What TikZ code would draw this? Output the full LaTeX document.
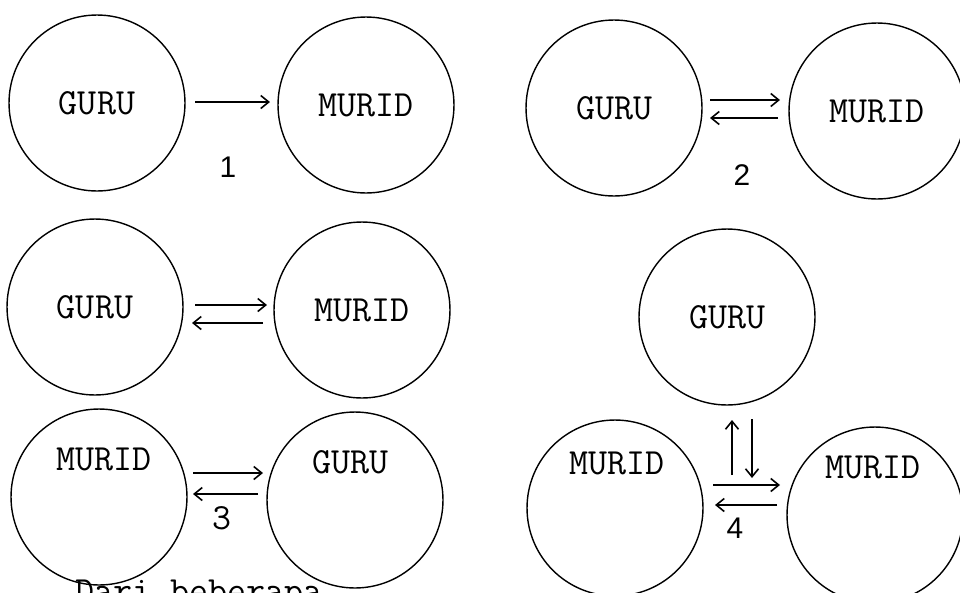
\documentclass[tikz,border=0pt]{standalone}
\usepackage{fontspec}
\setsansfont{Liberation Sans}
\usetikzlibrary{arrows.meta,calc}

\begin{document}
\begin{tikzpicture}[
      x=0.02cm, y=-0.02cm,
      person/.style={circle,draw,line width=0.8pt,minimum size=3.52cm,inner sep=0pt,
        font=\ttfamily\fontsize{21}{23}\selectfont},
      word/.style={inner sep=0pt,font=\ttfamily\fontsize{21}{23}\selectfont},
      num/.style={inner sep=0pt,font=\sffamily\fontsize{17}{19}\selectfont},
      link/.style={draw,line width=0.9pt,-{Straight Barb[length=1.6mm,width=2.6mm]}}
      ]
  \useasboundingbox (0,0) rectangle (960,592);
  \clip (0,0) rectangle (960,592);

  \node[person] (g1) at (97,103) {GURU};
  \node[person] (m1) at (366,105) {MURID};
  \draw[link] ($(g1)+(98,-1)$) -- ($(m1)+(-96,-3)$);
  \node[num] (n1) at (228,167) {1};

  \node[person] (g2) at (614,108) {GURU};
  \node[person] (m2) at (877,111) {MURID};
  \draw[link] ($(g2)+(96,-8)$) -- ($(m2)+(-97,-11)$);
  \draw[link] ($(m2)+(-99,7)$) -- ($(g2)+(96,10)$);
  \node[num] (n2) at (742,175) {2};

  \node[person] (g3) at (95,307) {GURU};
  \node[person] (m3) at (362,310) {MURID};
  \draw[link] ($(g3)+(100,-2)$) -- ($(m3)+(-95,-5)$);
  \draw[link] ($(m3)+(-99,13)$) -- ($(g3)+(97,16)$);

  \node[person] (m4) at (99,497) {};
  \node[word] (m4t) at ($(m4)+(5,-38)$) {MURID};
  \node[person] (g4) at (355,500) {};
  \node[word] (g4t) at ($(g4)+(-5,-38)$) {GURU};
  \draw[link] ($(m4)+(94,-24)$) -- ($(g4)+(-92,-27)$);
  \draw[link] ($(g4)+(-97,-6)$) -- ($(m4)+(94,-3)$);
  \node[word] (n3) at (222,518) {3};

  \node[person] (g5) at (727,317) {GURU};
  \node[person] (m5) at (615,508) {};
  \node[word] (m5t) at ($(m5)+(2,-45)$) {MURID};
  \node[person] (m6) at (875,515) {};
  \node[word] (m6t) at ($(m6)+(-2,-48)$) {MURID};
  \draw[link] ($(m5)+(117,-33)$) -- ($(g5)+(5,103)$);
  \draw[link] ($(g5)+(25,102)$) -- ($(m6)+(-123,-37)$);
  \draw[link] ($(m5)+(98,-23)$) -- ($(m6)+(-95,-30)$);
  \draw[link] ($(m6)+(-98,-10)$) -- ($(m5)+(100,-3)$);
  \node[num] (n4) at (735,528) {4};

  \node[word,anchor=base west] (tail) at (75,602) {Dari beberapa};
\end{tikzpicture}
\end{document}
